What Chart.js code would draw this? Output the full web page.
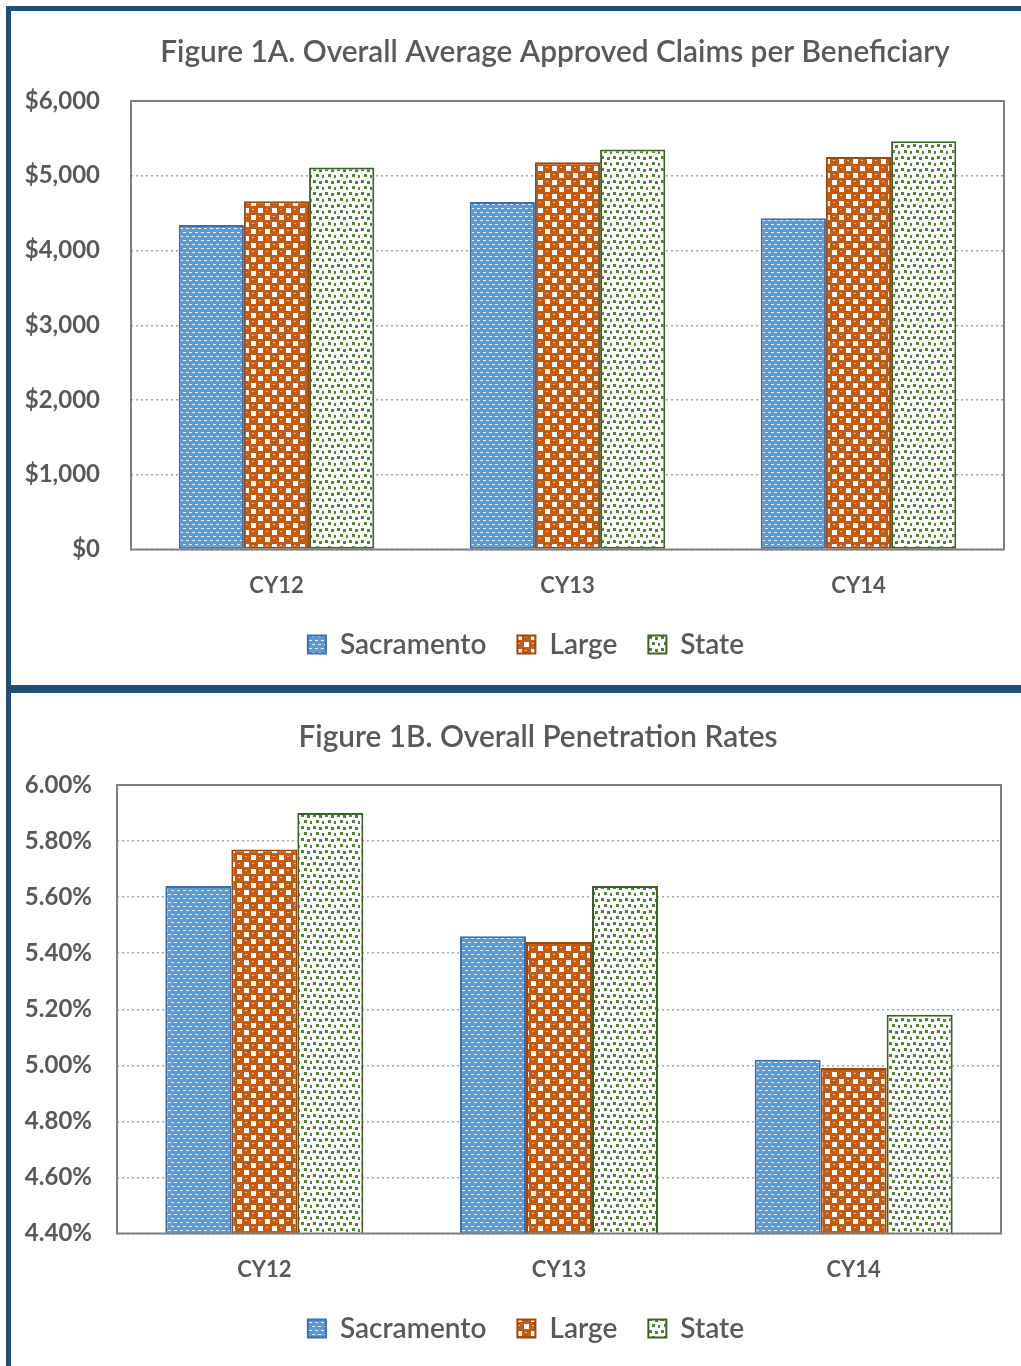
<!DOCTYPE html>
<html>
<head>
<meta charset="utf-8">
<script src="https://cdn.jsdelivr.net/npm/chart.js@4.4.1/dist/chart.umd.min.js"></script>
<style>
  html, body { margin: 0; padding: 0; background: #ffffff; overflow: hidden; }
  body { width: 1021px; height: 1366px; position: relative; }
  .rule { position: absolute; background: #1F4E79; z-index: 2; }
  canvas { position: absolute; }
</style>
</head>
<body>
<div class="rule" style="left:6px; top:6px; width:1015px; height:5px;"></div>
<div class="rule" style="left:6px; top:6px; width:5px; height:1360px;"></div>
<div class="rule" style="left:6px; top:685px; width:1015px; height:8px;"></div>
<canvas id="claims" width="1009" height="674" style="left:12px; top:11px;"></canvas>
<canvas id="penetration" width="1009" height="673" style="left:12px; top:693px;"></canvas>
<script>
// Calendar years shown on both charts
const categories = ['CY12', 'CY13', 'CY14'];
const seriesNames = ['Sacramento', 'Large', 'State'];

// Figure 1A: average approved claims per beneficiary (dollars)
const claimsSacramento = [4340, 4650, 4430];
const claimsLarge = [4660, 5180, 5250];
const claimsState = [5110, 5350, 5460];

// Figure 1B: penetration rates (percent)
const penSacramento = [5.64, 5.46, 5.02];
const penLarge = [5.77, 5.44, 4.99];
const penState = [5.90, 5.64, 5.18];

const textGray = '#595959';
const fontFamily = "Lato, 'Open Sans', 'DejaVu Sans', sans-serif";

// Hatched fills for the three series
function makePattern(kind) {
  const c = document.createElement('canvas');
  const g = c.getContext('2d');
  if (kind === 'dash') {
    c.width = 6; c.height = 8;
    g.fillStyle = '#5B9BD5'; g.fillRect(0, 0, 6, 8);
    g.fillStyle = '#E8F1FA';
    g.fillRect(0, 1, 3, 1);
    g.fillRect(3, 5, 3, 1);
  } else if (kind === 'sphere') {
    c.width = 14; c.height = 14;
    g.fillStyle = '#C55A11'; g.fillRect(0, 0, 14, 14);
    g.fillStyle = '#FFFFFF';
    g.fillRect(8, 1, 5, 5);
    g.fillRect(1, 8, 5, 5);
    g.fillStyle = '#F0BE9A';
    g.fillRect(2, 2, 2, 1);
    g.fillRect(9, 9, 2, 1);
  } else {
    c.width = 12; c.height = 12;
    g.fillStyle = '#FFFFFF'; g.fillRect(0, 0, 12, 12);
    g.fillStyle = '#548235';
    g.fillRect(1, 1, 3, 3);
    g.fillRect(7, 2, 3, 3);
    g.fillRect(4, 7, 3, 3);
    g.fillRect(10, 8, 3, 3);
  }
  return g.createPattern(c, 'repeat');
}

const fills = [makePattern('dash'), makePattern('sphere'), makePattern('dots')];
const edges = ['#3A6DB5', '#9E460D', '#3B6323'];

// Solid frame around the plotting area
const plotFrame = {
  id: 'plotFrame',
  afterDatasetsDraw(chart, args, opts) {
    const { ctx, chartArea: a } = chart;
    ctx.save();
    ctx.strokeStyle = opts.color;
    ctx.lineWidth = opts.width;
    ctx.strokeRect(a.left, a.top, a.right - a.left, a.bottom - a.top);
    ctx.restore();
  }
};

// Chart heading placed at a fixed centre
const heading = {
  id: 'heading',
  afterDraw(chart, args, opts) {
    const ctx = chart.ctx;
    ctx.save();
    ctx.fillStyle = textGray;
    ctx.font = opts.weight + ' ' + opts.size + 'px ' + fontFamily;
    ctx.textAlign = 'center';
    ctx.textBaseline = 'middle';
    ctx.fillText(opts.text, opts.x, opts.y);
    ctx.restore();
  }
};

// Shift the legend sideways after layout
const legendShift = {
  id: 'legendShift',
  afterLayout(chart, args, opts) {
    const lg = chart.legend;
    if (lg) { lg.left += opts.dx; lg.right += opts.dx; }
  }
};

function buildDatasets(values) {
  return values.map((v, i) => ({
    label: seriesNames[i],
    data: v,
    backgroundColor: fills[i],
    borderColor: edges[i],
    borderWidth: 2,
    borderSkipped: false,
    categoryPercentage: 0.672,
    barPercentage: 1.0
  }));
}

function makeChart(id, cfg) {
  return new Chart(document.getElementById(id), {
    type: 'bar',
    data: { labels: categories, datasets: buildDatasets(cfg.values) },
    options: {
      responsive: false,
      animation: false,
      layout: { padding: cfg.padding },
      plugins: {
        title: { display: false },
        tooltip: { enabled: false },
        legend: {
          position: 'bottom',
          labels: {
            color: textGray,
            font: { family: fontFamily, size: 28, weight: '600' },
            boxWidth: 18,
            boxHeight: 18,
            padding: 31
          }
        },
        plotFrame: { color: '#7F7F7F', width: 2 },
        heading: cfg.heading,
        legendShift: { dx: cfg.legendDx }
      },
      scales: {
        x: {
          grid: { display: false, drawTicks: false },
          border: { display: false },
          ticks: {
            color: textGray,
            padding: 23,
            font: { family: fontFamily, size: 22, weight: 'bold' }
          },
          afterFit(scale) { scale.height = cfg.xHeight; }
        },
        y: {
          min: cfg.min,
          max: cfg.max,
          grid: { color: '#A6A6A6', lineWidth: 1.5, drawTicks: false },
          border: { display: false, dash: [2, 3] },
          ticks: {
            stepSize: cfg.step,
            color: textGray,
            padding: cfg.tickPad,
            font: { family: fontFamily, size: 24, weight: 'bold' },
            callback: cfg.format
          },
          afterFit(scale) { scale.width = cfg.yWidth; }
        }
      }
    },
    plugins: [plotFrame, heading, legendShift]
  });
}

makeChart('claims', {
  values: [claimsSacramento, claimsLarge, claimsState],
  min: 0, max: 6000, step: 1000,
  format: v => '$' + Number(v).toLocaleString('en-US'),
  padding: { top: 90, left: 0, right: 17, bottom: 16.5 },
  yWidth: 119, xHeight: 50, tickPad: 31, legendDx: 18,
  heading: { text: 'Figure 1A. Overall Average Approved Claims per Beneficiary', x: 543, y: 41, size: 29.8, weight: '600' }
});

makeChart('penetration', {
  values: [penSacramento, penLarge, penState],
  min: 4.4, max: 6.0, step: 0.2,
  format: v => Number(v).toFixed(2) + '%',
  padding: { top: 92, left: 0, right: 20, bottom: 13.5 },
  yWidth: 105, xHeight: 50, tickPad: 25, legendDx: 19.5,
  heading: { text: 'Figure 1B. Overall Penetration Rates', x: 526, y: 44, size: 29.8, weight: '600' }
});
</script>
</body>
</html>
